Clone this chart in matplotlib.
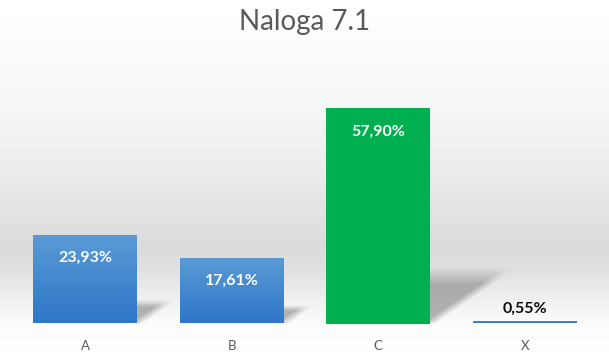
import numpy as np
import matplotlib.pyplot as plt
from matplotlib.colors import LinearSegmentedColormap

categories = ['A', 'B', 'C', 'X']
values = [23.93, 17.61, 57.90, 0.55]
labels = ['23,93%', '17,61%', '57,90%', '0,55%']

plt.rcParams['font.family'] = ['Lato', 'DejaVu Sans']

W, H = 609, 364
fig = plt.figure(figsize=(W / 100, H / 100), dpi=100)

# background gradient (whole figure)
bg = fig.add_axes([0, 0, 1, 1])
bg.set_axis_off()
yy = np.arange(H)
prof = np.interp(yy, [0, 100, 180, 245, 270, 300, 325, 364],
                 [255, 247, 234, 218, 224, 240, 252, 255]) / 255.0
img = np.repeat(prof[:, None], 2, axis=1)
bg.imshow(img, cmap='gray', vmin=0, vmax=1, aspect='auto', extent=[0, 1, 0, 1])
bg.set_xlim(0, 1)
bg.set_ylim(0, 1)

left, right = 12 / W, 598 / W
bottom, top = 1 - 323.5 / H, 1 - 63.5 / H
ax = fig.add_axes([left, bottom, right - left, top - bottom])
ax.patch.set_alpha(0)
x = np.arange(len(categories))
width = 0.709

# perspective shadows: bar silhouette sheared up and to the right, soft edges
for xi, v in zip(x, values):
    if v < 2:
        continue
    dh = v * 0.24
    dx = v * 0.0088
    xl, xr = xi - width / 2, xi + width / 2
    ex = [xr - 0.05, xr + dx + 0.12]
    gx = np.linspace(ex[0], ex[1], 160)
    gy = np.linspace(0, dh * 1.15, 100)
    X, Y = np.meshgrid(gx, gy)
    t = Y / dh
    s = X - t * dx
    edge = np.clip((xr - s) / 0.09 + 0.5, 0, 1)
    soft_top = np.clip((1.08 - t) / 0.35, 0, 1)
    alpha = 0.5 * edge * soft_top
    rgba = np.zeros(X.shape + (4,))
    rgba[..., :3] = 0.42
    rgba[..., 3] = np.clip(alpha, 0, 1)
    ax.imshow(rgba, origin='lower', aspect='auto',
              extent=[ex[0], ex[1], 0, dh * 1.15], zorder=1, interpolation='bilinear')

# bars with vertical gradient
blue_cmap = LinearSegmentedColormap.from_list('bl', ['#2e76c8', '#5b9bd5'])
green = '#00b050'
grad = np.linspace(0, 1, 100)[:, None]
bars = ax.bar(x, values, width, color='none', zorder=2)
for i, (b, v) in enumerate(zip(bars, values)):
    if categories[i] == 'C':
        b.set_facecolor(green)
        continue
    im = ax.imshow(grad, cmap=blue_cmap, aspect='auto', origin='lower',
                   extent=[b.get_x(), b.get_x() + width, 0, v], zorder=2)
    im.set_clip_path(b)
ax.set_xlim(-0.5, 3.5)
ax.set_ylim(0, 70)

for xi, v, lab in zip(x, values, labels):
    if v > 5:
        ax.annotate(lab, (xi, v), xytext=(0, -11.5), textcoords='offset points',
                    ha='center', va='top', color='white', fontsize=11.5,
                    fontweight='bold', zorder=3)
    else:
        ax.annotate(lab, (xi, v), xytext=(0, 4), textcoords='offset points',
                    ha='center', va='bottom', color='#0d0d0d', fontsize=11.5,
                    fontweight='bold', zorder=3)

ax.set_xticks(x)
ax.set_xticklabels(categories, color='#595959', fontsize=9.5)
ax.tick_params(axis='x', length=0, pad=12)
ax.set_yticks([])
for s in ax.spines.values():
    s.set_visible(False)

fig.text(0.5, 1 - 22 / H, 'Naloga 7.1', ha='center', va='center',
         color='#595959', fontsize=20)

fig.savefig('out.png', dpi=100)
